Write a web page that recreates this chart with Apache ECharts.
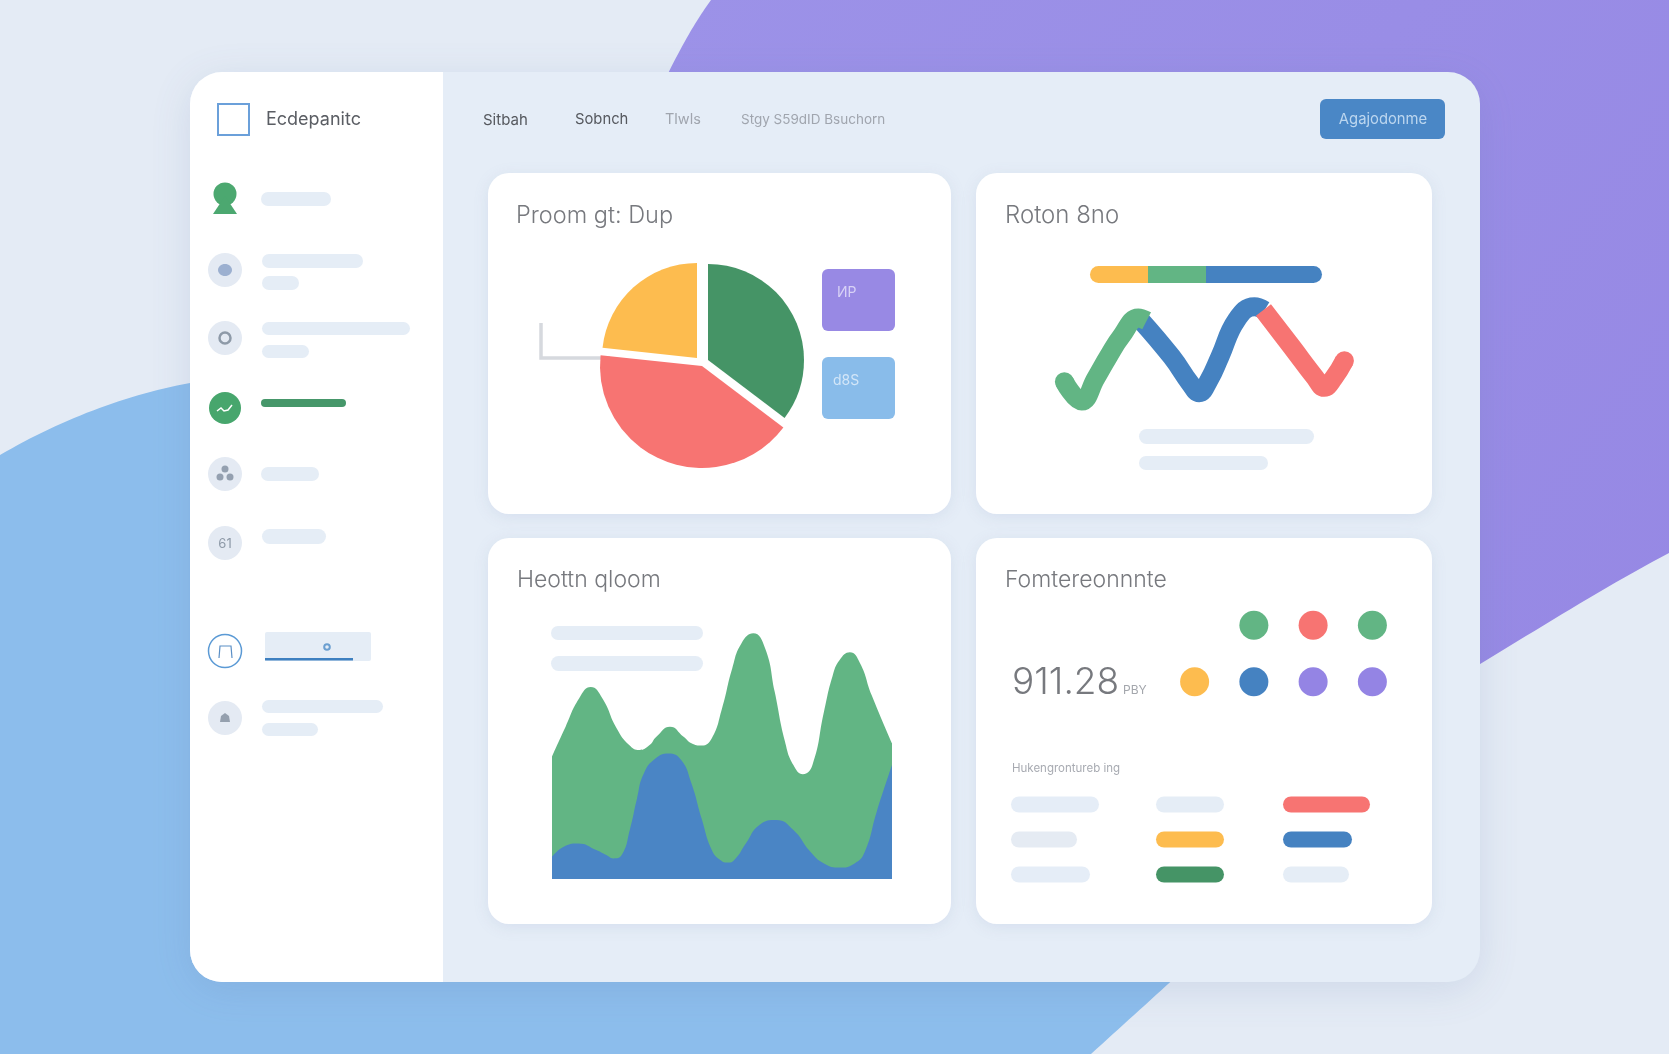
<!DOCTYPE html>
<html>
<head>
<meta charset="utf-8">
<title>Dashboard</title>
<script src="https://cdn.jsdelivr.net/npm/echarts@6/dist/echarts.min.js"></script>
<style>
html, body { margin: 0; padding: 0; background: #e4ebf5; }
#main { width: 1669px; height: 1054px; }
</style>
</head>
<body>
<div id="main"></div>
<script>
var fontName = 'Inter, "Noto Sans", sans-serif';

// pie card
var pieNames = ['Green', 'Red', 'Yellow'];
var pieValues = [35.3, 41.4, 23.3];
var pieColors = ['#459466', '#f77472', '#fdbc4f'];

// ribbon card
var barSegments = [25, 25, 50];
var barColors = ['#fdbc4f', '#62b584', '#4582c1'];
var ribbonBlue = [[28.1, 75.6], [38, 44.4], [43.8, 22.2], [46.6, 14.4], [49.7, 25], [53.1, 44.4], [58.3, 75], [63.9, 86.1], [67, 83.1]];
var ribbonGreen = [[4.5, 23.6], [9.9, 7.5], [14.3, 26.4], [18.2, 44.4], [22.4, 61.9], [27.6, 76.7], [30.2, 74.4]];
var ribbonRed = [[66.7, 83.3], [75.5, 52.8], [82.8, 27.2], [85.7, 18.9], [88.6, 26.4], [92, 41.1]];

// area card
var areaGreen = [[0, 47.1], [4, 58.6], [8, 69.5], [11.4, 73.8], [14.8, 69.5], [19, 58], [22.7, 51.5], [25.7, 49.6],
    [28.7, 51.5], [30.7, 54.7], [34.7, 58.6], [38.7, 54.7], [41, 52.2], [44, 51.3], [47, 54.1], [50, 65.6],
    [53, 81], [55.7, 90.6], [59.2, 94.5], [62.7, 88.7], [65.5, 72], [68.5, 53], [71, 43.8], [73.8, 40.3],
    [76.6, 43.8], [80, 64.4], [82.5, 78], [84.6, 84.2], [87.6, 87.2], [90.6, 83], [94, 70.8], [100, 52.2]];
var areaBlue = [[0, 8.6], [4, 12.8], [7.7, 13.7], [13, 11.2], [16, 9.2], [18, 7.9], [20.5, 9.2], [23, 19.5],
    [25, 31], [27, 40.6], [30.5, 46.4], [34.2, 48.3], [38, 45.8], [41, 36.8], [44, 23.3], [47, 11.2],
    [49.5, 7.3], [51.8, 6.3], [54, 7.9], [57, 13.7], [61, 20.8], [66, 22.7], [71, 18.8], [76, 10.5],
    [80, 6], [84.6, 4.4], [89, 6], [92, 10.5], [95.5, 25.9], [100, 43.8]];

// dots card
var dotCols = ['a', 'b', 'c', 'd'];
var dotRows = ['bottom', 'top'];
var dotValues = [['b', 'top'], ['c', 'top'], ['d', 'top'], ['a', 'bottom'], ['b', 'bottom'], ['c', 'bottom'], ['d', 'bottom']];
var dotColors = ['#62b584', '#f77472', '#62b584', '#fdbc4f', '#4582c1', '#9484e4', '#9484e4'];
var pillRows = ['r1', 'r2', 'r3'];
var pillValues = [[88, 66, 79], [68, 68, 68], [87, 69, 66]];
var pillColors = [['#e5edf7', '#e5ebf3', '#e5edf7'], ['#e5edf6', '#fdbc4f', '#459466'], ['#f77472', '#4582c1', '#e5edf6']];

var titles = ['Proom gt: Dup', 'Roton 8no', 'Heottn qloom', 'Fomtereonnnte'];
var navLabels = ['Sitbah', 'Sobnch', 'Tlwls', 'Stgy S59dID Bsuchorn'];

var pale = '#e5edf6';

function box(x, y, w, h, r, fill, extra) {
    var style = { fill: fill };
    if (extra) { for (var k in extra) { style[k] = extra[k]; } }
    return { type: 'rect', shape: { x: x, y: y, width: w, height: h, r: r }, style: style };
}
function pill(x1, y1, x2, y2, fill) {
    return box(x1, y1, x2 - x1, y2 - y1, (y2 - y1) / 2, fill || pale);
}
function label(text, x, y, size, color, weight, align) {
    return {
        type: 'text',
        style: {
            text: text, x: x, y: y, fill: color,
            font: (weight || 400) + ' ' + size + 'px ' + fontName,
            verticalAlign: 'middle', align: align || 'left'
        }
    };
}
function disc(x, y, r, fill, extra) {
    var style = { fill: fill };
    if (extra) { for (var k in extra) { style[k] = extra[k]; } }
    return { type: 'circle', shape: { cx: x, cy: y, r: r }, style: style };
}
function cardBox(x, y, w, h) {
    return box(x, y, w, h, 21, '#ffffff', {
        shadowBlur: 16, shadowColor: 'rgba(110,135,180,0.14)', shadowOffsetY: 3
    });
}
// sampled cubic edge for the backdrop shapes (graphic 'path' is not available here)
function edge(p0, c1, c2, p3) {
    var pts = [];
    for (var i = 0; i <= 30; i++) {
        var t = i / 30, u = 1 - t;
        pts.push([
            u * u * u * p0[0] + 3 * u * u * t * c1[0] + 3 * u * t * t * c2[0] + t * t * t * p3[0],
            u * u * u * p0[1] + 3 * u * u * t * c1[1] + 3 * u * t * t * c2[1] + t * t * t * p3[1]
        ]);
    }
    return pts;
}

var purpleEdge = [[711, 0]].concat(edge([711, 0], [695, 22], [680, 48], [660, 90]))
    .concat(edge([1400, 712], [1490, 660], [1580, 600], [1669, 553])).concat([[1669, 0]]);
var blueEdge = edge([0, 455], [60, 420], [125, 395], [190, 383])
    .concat(edge([1250, 910], [1200, 955], [1145, 1005], [1091, 1054])).concat([[0, 1054]]);

var chrome = [
    // backdrop blobs
    { type: 'polygon', shape: { points: purpleEdge },
      style: { fill: { type: 'linear', x: 0, y: 0, x2: 1, y2: 1, colorStops: [{ offset: 0, color: '#9c92e8' }, { offset: 1, color: '#9688e4' }] } } },
    { type: 'polygon', shape: { points: blueEdge }, style: { fill: '#8cbdec' } },
    // main panel
    box(190, 72, 1290, 910, 32, '#e5edf7', { shadowBlur: 40, shadowColor: 'rgba(90,110,160,0.16)', shadowOffsetY: 8 }),
    box(190, 72, 253, 910, [32, 0, 0, 32], '#ffffff'),
    // logo
    box(218, 104, 31, 31, 0, '#ffffff', { stroke: '#6ba0da', lineWidth: 2 }),
    label('Ecdepanitc', 266, 120, 18, '#5a5d63'),
    // top nav
    label(navLabels[0], 483, 120, 15, '#55585e'),
    label(navLabels[1], 575, 120, 14.8, '#55585e'),
    label(navLabels[2], 665, 120, 14.5, '#a0a5ae'),
    label(navLabels[3], 741, 120, 13.5, '#a0a5ae'),
    box(1320, 99, 125, 40, 6, '#4a87c6'),
    label('Agajodonme', 1383, 120, 14.8, '#bcd6ef', 400, 'center'),
    // sidebar icons
    disc(225, 194, 11.5, '#4ca870'),
    { type: 'polygon', shape: { points: [[213, 214], [237, 214], [225, 196]] }, style: { fill: '#4ca870' } },
    pill(261, 192, 331, 206),
    disc(225, 270, 17, '#e4eaf3'),
    { type: 'ellipse', shape: { cx: 225, cy: 270, rx: 7, ry: 6 }, style: { fill: '#9cb0d0' } },
    pill(262, 254, 363, 268), pill(262, 276, 299, 290),
    disc(225, 338, 17, '#e4eaf3'),
    disc(225, 338, 5.5, 'none', { stroke: '#8e9aa8', lineWidth: 2.5 }),
    pill(262, 322, 410, 335), pill(262, 345, 309, 358),
    disc(225, 408, 16, '#47a66d'),
    { type: 'polyline', shape: { points: [[217, 411], [221, 408], [224, 411], [228, 410], [232, 405]] }, style: { fill: 'none', stroke: '#ffffff', lineWidth: 1.5 } },
    pill(261, 399, 346, 407, '#46976a'),
    disc(225, 474, 17, '#e4eaf3'),
    disc(225, 469, 3.5, '#94a0b0'), disc(220, 477, 3.5, '#94a0b0'), disc(230, 477, 3.5, '#94a0b0'),
    pill(261, 467, 319, 481),
    disc(225, 543, 17, '#e4eaf3'),
    label('61', 225, 544, 13, '#8e9aa8', 400, 'center'),
    pill(262, 529, 326, 544),
    disc(225, 651, 16.5, '#ffffff', { stroke: '#5b9ad5', lineWidth: 1.5 }),
    { type: 'polyline', shape: { points: [[219, 658], [220, 646], [231, 646], [232, 658]] }, style: { fill: 'none', stroke: '#5b8fc6', lineWidth: 1.2 } },
    box(265, 632, 106, 29, 2, '#e5edf6'),
    box(265, 658, 88, 2.5, 0, '#3e80c0'),
    disc(327, 647, 2.8, '#e5edf6', { stroke: '#6b9fd0', lineWidth: 2 }),
    disc(225, 718, 17, '#e4eaf3'),
    { type: 'polygon', shape: { points: [[220, 722], [221, 716], [225, 713], [229, 716], [230, 722]] }, style: { fill: '#95a0ae' } },
    pill(262, 700, 383, 713), pill(262, 723, 318, 736),
    // cards
    cardBox(488, 173, 463, 341),
    cardBox(976, 173, 456, 341),
    cardBox(488, 538, 463, 386),
    cardBox(976, 538, 456, 386),
    label(titles[0], 516, 216, 23.5, '#77797e', 300),
    label(titles[1], 1005, 216, 24, '#77797e', 300),
    label(titles[2], 517, 580, 23, '#77797e', 300),
    label(titles[3], 1005, 580, 23, '#77797e', 300),
    // pie card pieces
    { type: 'polyline', shape: { points: [[541, 323], [541, 358], [610, 358]] }, style: { fill: 'none', stroke: '#d6d9de', lineWidth: 3.5 } },
    box(822, 269, 73, 62, 6, '#9889e4'),
    label('ИP', 837, 293, 14, '#d8d2f6'),
    box(822, 357, 73, 62, 6, '#89bcea'),
    label('d8S', 833, 381, 14, '#d3e6f8'),
    // placeholders under the charts
    pill(1139, 429, 1314, 444), pill(1139, 456, 1268, 470),
    pill(551, 626, 703, 640), pill(551, 656, 703, 671),
    // readout
    label('911.28', 1012, 683, 37, '#77797e', 300),
    label('PBY', 1123, 690, 12, '#a3a6ac'),
    label('Hukengrontureb ing', 1012, 769, 11.5, '#a8abb2')
];

function hiddenCat(gridIndex, data, inverse) {
    return { type: 'category', show: false, gridIndex: gridIndex, data: data, inverse: !!inverse };
}
function hiddenVal(gridIndex, min, max) {
    return { type: 'value', show: false, gridIndex: gridIndex, min: min, max: max };
}
// capEnd: which end of the ribbon gets a round tip, the joins stay cut square
function ribbon(data, color, capEnd) {
    return {
        type: 'line', xAxisIndex: 0, yAxisIndex: 0, data: data, smooth: 0.45, silent: true,
        showSymbol: true, showAllSymbol: true, symbolSize: 19,
        symbol: function (value, params) { return params.dataIndex === capEnd ? 'circle' : 'none'; },
        itemStyle: { color: color },
        lineStyle: { color: color, width: 19, join: 'round' }
    };
}
function area(data, color) {
    return {
        type: 'line', xAxisIndex: 2, yAxisIndex: 2, data: data, smooth: 0.5, symbol: 'none', silent: true,
        lineStyle: { width: 0 }, areaStyle: { color: color, opacity: 1, origin: 'start' }
    };
}
// each slice sits a little apart with its own radius, so every slice gets a pie series of its own
function pieSlice(index, center, radius) {
    return {
        type: 'pie', center: center, radius: [0, radius], startAngle: 90, silent: true,
        label: { show: false }, labelLine: { show: false },
        data: pieNames.map(function (n, i) {
            return { name: n, value: pieValues[i], itemStyle: { color: i === index ? pieColors[i] : 'rgba(0,0,0,0)' } };
        })
    };
}

var series = [
    pieSlice(0, [708, 360], 96),
    pieSlice(1, [702, 366], 102),
    pieSlice(2, [697, 358], 95),
    ribbon(ribbonBlue, '#4582c1', -1),
    ribbon(ribbonGreen, '#62b584', 0),
    ribbon(ribbonRed, '#f77472', ribbonRed.length - 1),
    area(areaGreen, '#62b584'),
    area(areaBlue, '#4a85c5'),
    {
        type: 'scatter', xAxisIndex: 3, yAxisIndex: 3, symbolSize: 29, silent: true,
        data: dotValues.map(function (d, i) {
            return { value: d, itemStyle: { color: dotColors[i], opacity: 1 } };
        })
    }
];

barSegments.forEach(function (v, i) {
    var r = i === 0 ? [9, 0, 0, 9] : (i === barSegments.length - 1 ? [0, 9, 9, 0] : 0);
    series.push({
        type: 'bar', xAxisIndex: 1, yAxisIndex: 1, stack: 'seg', barWidth: 17, silent: true, data: [v],
        itemStyle: { color: barColors[i], borderRadius: r }
    });
});

var grids = [
    { left: 1050, top: 290, width: 320, height: 120 },
    { left: 1090, top: 266, width: 232, height: 17 },
    { left: 552, top: 619, width: 340, height: 260 },
    { left: 1165, top: 597, width: 237, height: 113 },
    { left: 1011, top: 787, width: 100, height: 105 },
    { left: 1156, top: 787, width: 100, height: 105 },
    { left: 1283, top: 787, width: 100, height: 105 }
];
var xAxes = [hiddenVal(0, 0, 100), hiddenVal(1, 0, 100), hiddenVal(2, 0, 100), hiddenCat(3, dotCols)];
var yAxes = [hiddenVal(0, 0, 100), hiddenCat(1, ['seg']), hiddenVal(2, 0, 100), hiddenCat(3, dotRows)];

pillValues.forEach(function (vals, c) {
    var g = 4 + c;
    xAxes.push(hiddenVal(g, 0, 100));
    yAxes.push(hiddenCat(g, pillRows, true));
    series.push({
        type: 'bar', xAxisIndex: g, yAxisIndex: g, barWidth: 16, silent: true,
        data: vals.map(function (v, i) {
            return { value: v, itemStyle: { color: pillColors[c][i], borderRadius: 8 } };
        })
    });
});

var myChart = echarts.init(document.getElementById('main'), null, { renderer: 'canvas' });
myChart.setOption({
    animation: false,
    backgroundColor: '#e4ebf5',
    grid: grids,
    xAxis: xAxes,
    yAxis: yAxes,
    graphic: { elements: chrome },
    series: series
});
</script>
</body>
</html>
